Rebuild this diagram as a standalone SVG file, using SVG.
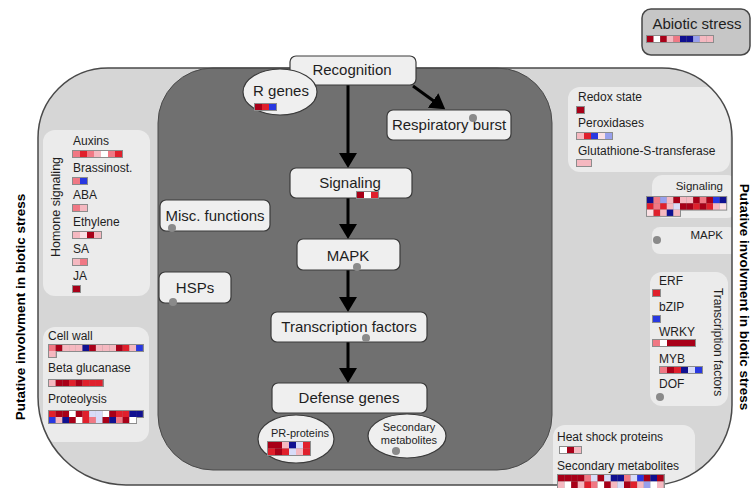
<svg xmlns="http://www.w3.org/2000/svg" width="753" height="488" viewBox="0 0 753 488">
<style>
text{font-family:"Liberation Sans",Arial,sans-serif;fill:#1e1e1e}
.box{fill:#efefef;stroke:#3a3a3a;stroke-width:1.2}
.panel{fill:#ebebeb}
.big{font-size:15px;text-anchor:middle}
.sm{font-size:12px}
.el{font-size:11px;text-anchor:middle}
.vt{font-size:13.5px;font-weight:bold;text-anchor:middle;fill:#000}
.hf{fill:#8c8c8c}
.dr{fill:#a80018}.r{fill:#e0202c}.p{fill:#f07884}.lp{fill:#f5b8c0}.vp{fill:#fbe0e4}.w{fill:#ffffff}
.nb{fill:#101090}.b{fill:#2838e0}.lb{fill:#98a0ec}.lv{fill:#d8dcf8}
.dot{fill:#8a8a8a}
.con{stroke:#000;stroke-width:3;fill:none;marker-end:url(#ah)}
</style>
<defs>
<marker id="ah" markerUnits="userSpaceOnUse" viewBox="0 0 15 18" refX="11" refY="9" markerWidth="15" markerHeight="18" orient="auto">
<path d="M0,0 L15,9 L0,18 z" fill="#000"/>
</marker>
<path id="outerShape" d="M108,68 H662 A70,70 0 0 1 732,138 V405 A80,80 0 0 1 652,485 H126 A88,88 0 0 1 38,397 V138 A70,70 0 0 1 108,68 Z"/>
<clipPath id="outerClip"><use href="#outerShape"/></clipPath>
</defs>
<rect width="753" height="488" fill="#ffffff"/>

<g id="outer-region">
<use href="#outerShape" fill="#d6d6d6"/>
</g>

<g id="inner-region">
<rect x="158" y="68" width="394" height="402" rx="55" fill="#707070" stroke="#4a4a4a" stroke-width="1"/>
</g>

<g id="side-panels" clip-path="url(#outerClip)">
<rect class="panel" x="43" y="130" width="107" height="166" rx="12"/>
<rect class="panel" x="43" y="327" width="106" height="115" rx="12"/>
<rect class="panel" x="568" y="87" width="162" height="85" rx="12"/>
<rect class="panel" x="652" y="175" width="85" height="43" rx="10"/>
<rect class="panel" x="652" y="227" width="85" height="27" rx="8"/>
<rect class="panel" x="650" y="272" width="78" height="134" rx="12"/>
<rect class="panel" x="553" y="425" width="142" height="80" rx="12"/>
</g>

<g id="outer-border">
<use href="#outerShape" fill="none" stroke="#4a4a4a" stroke-width="1.5"/>
</g>

<g id="side-labels">
<text class="vt" transform="translate(25,307) rotate(-90)">Putative involvment in biotic stress</text>
<text class="vt" transform="translate(740,297) rotate(90)">Putative involvment in biotic stress</text>
</g>

<g id="abiotic-stress">
<rect x="642" y="9" width="108" height="46" rx="9" fill="#c6c6c6" stroke="#474747" stroke-width="1.5"/>
<text class="big" x="697" y="29">Abiotic stress</text>
<rect class="hf" x="646" y="35" width="68" height="8"/>
<rect class="dr" x="647" y="36" width="6.6" height="6"/><rect class="w" x="653.6" y="36" width="6.6" height="6"/><rect class="dr" x="660.2" y="36" width="6.6" height="6"/><rect class="lp" x="666.8" y="36" width="6.6" height="6"/><rect class="p" x="673.4" y="36" width="6.6" height="6"/><rect class="nb" x="680" y="36" width="6.6" height="6"/><rect class="nb" x="686.6" y="36" width="6.6" height="6"/><rect class="lb" x="693.2" y="36" width="6.6" height="6"/><rect class="lp" x="699.8" y="36" width="6.6" height="6"/><rect class="lp" x="706.4" y="36" width="6.6" height="6"/>
</g>

<g id="hormone-signaling">
<text class="sm" transform="translate(60,207) rotate(-90)" text-anchor="middle" style="font-size:12.5px">Homone signaling</text>
<text class="sm" x="73" y="145">Auxins</text>
<rect class="hf" x="72" y="150" width="51" height="8"/>
<rect class="p" x="73" y="151" width="7" height="6"/><rect class="r" x="80" y="151" width="7" height="6"/><rect class="p" x="87" y="151" width="7" height="6"/><rect class="lp" x="94" y="151" width="7" height="6"/><rect class="w" x="101" y="151" width="7" height="6"/><rect class="p" x="108" y="151" width="7" height="6"/><rect class="r" x="115" y="151" width="7" height="6"/>
<text class="sm" x="73" y="172">Brassinost.</text>
<rect class="hf" x="72" y="177" width="16" height="8"/>
<rect class="p" x="73" y="178" width="7" height="6"/><rect class="b" x="80" y="178" width="7" height="6"/>
<text class="sm" x="73" y="199">ABA</text>
<rect class="hf" x="72" y="204" width="16" height="8"/>
<rect class="p" x="73" y="205" width="7" height="6"/><rect class="lp" x="80" y="205" width="7" height="6"/>
<text class="sm" x="73" y="226">Ethylene</text>
<rect class="hf" x="72" y="231" width="30" height="8"/>
<rect class="lp" x="73" y="232" width="7" height="6"/><rect class="vp" x="80" y="232" width="7" height="6"/><rect class="dr" x="87" y="232" width="7" height="6"/><rect class="lp" x="94" y="232" width="7" height="6"/>
<text class="sm" x="73" y="253">SA</text>
<rect class="hf" x="72" y="258" width="16" height="8"/>
<rect class="lp" x="73" y="259" width="7" height="6"/><rect class="p" x="80" y="259" width="7" height="6"/>
<text class="sm" x="73" y="280">JA</text>
<rect class="hf" x="72" y="285" width="9" height="8"/>
<rect class="dr" x="73" y="286" width="7" height="6"/>
</g>

<g id="cell-wall">
<text class="sm" x="48" y="340">Cell wall</text>
<rect class="hf" x="48" y="344" width="96" height="8"/><rect class="hf" x="48" y="350" width="9" height="8"/>
<rect class="p" x="49" y="345" width="6.7" height="6"/><rect class="dr" x="55.7" y="345" width="6.7" height="6"/><rect class="lp" x="62.4" y="345" width="6.7" height="6"/><rect class="lp" x="69.1" y="345" width="6.7" height="6"/><rect class="lp" x="75.8" y="345" width="6.7" height="6"/><rect class="nb" x="82.5" y="345" width="6.7" height="6"/><rect class="dr" x="89.2" y="345" width="6.7" height="6"/><rect class="lp" x="95.9" y="345" width="6.7" height="6"/><rect class="lp" x="102.6" y="345" width="6.7" height="6"/><rect class="lp" x="109.3" y="345" width="6.7" height="6"/><rect class="dr" x="116" y="345" width="6.7" height="6"/><rect class="r" x="122.7" y="345" width="6.7" height="6"/><rect class="lp" x="129.4" y="345" width="6.7" height="6"/><rect class="b" x="136.1" y="345" width="6.7" height="6"/>
<rect class="lp" x="49" y="351" width="6.7" height="6"/>
<text class="sm" x="48" y="372">Beta glucanase</text>
<rect class="hf" x="48" y="379" width="56" height="8"/>
<rect class="lp" x="49" y="380" width="6.7" height="6"/><rect class="dr" x="55.7" y="380" width="6.7" height="6"/><rect class="dr" x="62.4" y="380" width="6.7" height="6"/><rect class="r" x="69.1" y="380" width="6.7" height="6"/><rect class="dr" x="75.8" y="380" width="6.7" height="6"/><rect class="r" x="82.5" y="380" width="6.7" height="6"/><rect class="r" x="89.2" y="380" width="6.7" height="6"/><rect class="r" x="95.9" y="380" width="6.7" height="6"/>
<text class="sm" x="48" y="403">Proteolysis</text>
<rect class="hf" x="48" y="410" width="96" height="8"/><rect class="hf" x="48" y="416" width="89" height="8"/>
<rect class="r" x="49" y="411" width="6.7" height="6"/><rect class="dr" x="55.7" y="411" width="6.7" height="6"/><rect class="dr" x="62.4" y="411" width="6.7" height="6"/><rect class="w" x="69.1" y="411" width="6.7" height="6"/><rect class="dr" x="75.8" y="411" width="6.7" height="6"/><rect class="r" x="82.5" y="411" width="6.7" height="6"/><rect class="lv" x="89.2" y="411" width="6.7" height="6"/><rect class="lv" x="95.9" y="411" width="6.7" height="6"/><rect class="w" x="102.6" y="411" width="6.7" height="6"/><rect class="dr" x="109.3" y="411" width="6.7" height="6"/><rect class="r" x="116" y="411" width="6.7" height="6"/><rect class="r" x="122.7" y="411" width="6.7" height="6"/><rect class="nb" x="129.4" y="411" width="6.7" height="6"/><rect class="nb" x="136.1" y="411" width="6.7" height="6"/>
<rect class="b" x="49" y="417" width="6.7" height="6"/><rect class="lp" x="55.7" y="417" width="6.7" height="6"/><rect class="nb" x="62.4" y="417" width="6.7" height="6"/><rect class="dr" x="69.1" y="417" width="6.7" height="6"/><rect class="w" x="75.8" y="417" width="6.7" height="6"/><rect class="r" x="82.5" y="417" width="6.7" height="6"/><rect class="p" x="89.2" y="417" width="6.7" height="6"/><rect class="lv" x="95.9" y="417" width="6.7" height="6"/><rect class="dr" x="102.6" y="417" width="6.7" height="6"/><rect class="nb" x="109.3" y="417" width="6.7" height="6"/><rect class="p" x="116" y="417" width="6.7" height="6"/><rect class="dr" x="122.7" y="417" width="6.7" height="6"/><rect class="w" x="129.4" y="417" width="6.7" height="6"/>
</g>

<g id="redox">
<text class="sm" x="578" y="101">Redox state</text>
<rect class="hf" x="576" y="106" width="9" height="8"/><rect class="dr" x="577" y="107" width="7" height="6"/>
<text class="sm" x="578" y="127">Peroxidases</text>
<rect class="hf" x="576" y="132" width="37" height="8"/>
<rect class="lp" x="577" y="133" width="7" height="6"/><rect class="r" x="584" y="133" width="7" height="6"/><rect class="b" x="591" y="133" width="7" height="6"/><rect class="vp" x="598" y="133" width="7" height="6"/><rect class="lb" x="605" y="133" width="7" height="6"/>
<text class="sm" x="578" y="155">Glutathione-S-transferase</text>
<rect class="hf" x="576" y="159" width="16" height="8"/>
<rect class="lp" x="577" y="160" width="7" height="6"/><rect class="lp" x="584" y="160" width="7" height="6"/>
</g>

<g id="signaling-right">
<text class="sm" x="723" y="190" text-anchor="end" style="font-size:11.5px">Signaling</text>
<rect class="hf" x="646" y="196" width="81.2" height="14.6"/><rect class="hf" x="646" y="208.6" width="35" height="8.3"/>
<rect class="nb" x="647" y="197" width="6.6" height="6.3"/><rect class="p" x="653.6" y="197" width="6.6" height="6.3"/><rect class="lb" x="660.2" y="197" width="6.6" height="6.3"/><rect class="lp" x="666.8" y="197" width="6.6" height="6.3"/><rect class="dr" x="673.4" y="197" width="6.6" height="6.3"/><rect class="lp" x="680" y="197" width="6.6" height="6.3"/><rect class="lp" x="686.6" y="197" width="6.6" height="6.3"/><rect class="dr" x="693.2" y="197" width="6.6" height="6.3"/><rect class="p" x="699.8" y="197" width="6.6" height="6.3"/><rect class="dr" x="706.4" y="197" width="6.6" height="6.3"/><rect class="b" x="713" y="197" width="6.6" height="6.3"/><rect class="nb" x="719.6" y="197" width="6.6" height="6.3"/>
<rect class="r" x="647" y="203.3" width="6.6" height="6.3"/><rect class="p" x="653.6" y="203.3" width="6.6" height="6.3"/><rect class="r" x="660.2" y="203.3" width="6.6" height="6.3"/><rect class="lp" x="666.8" y="203.3" width="6.6" height="6.3"/><rect class="lv" x="673.4" y="203.3" width="6.6" height="6.3"/><rect class="dr" x="680" y="203.3" width="6.6" height="6.3"/><rect class="dr" x="686.6" y="203.3" width="6.6" height="6.3"/><rect class="r" x="693.2" y="203.3" width="6.6" height="6.3"/><rect class="dr" x="699.8" y="203.3" width="6.6" height="6.3"/><rect class="r" x="706.4" y="203.3" width="6.6" height="6.3"/><rect class="lp" x="713" y="203.3" width="6.6" height="6.3"/><rect class="vp" x="719.6" y="203.3" width="6.6" height="6.3"/>
<rect class="vp" x="647" y="209.6" width="6.6" height="6.3"/><rect class="r" x="653.6" y="209.6" width="6.6" height="6.3"/><rect class="lp" x="660.2" y="209.6" width="6.6" height="6.3"/><rect class="nb" x="666.8" y="209.6" width="6.6" height="6.3"/><rect class="lp" x="673.4" y="209.6" width="6.6" height="6.3"/>
</g>

<g id="mapk-right">
<text class="sm" x="723" y="239" text-anchor="end" style="font-size:11.5px">MAPK</text>
<circle class="dot" cx="657" cy="240" r="4"/>
</g>

<g id="transcription-factors-right">
<text class="sm" transform="translate(714,342) rotate(90)" text-anchor="middle">Transcription factors</text>
<text class="sm" x="659" y="285">ERF</text>
<rect class="hf" x="652" y="289" width="9" height="8"/><rect class="r" x="653" y="290" width="7" height="6"/>
<text class="sm" x="659" y="311">bZIP</text>
<rect class="hf" x="652" y="315" width="9" height="8"/><rect class="b" x="653" y="316" width="7" height="6"/>
<text class="sm" x="659" y="336">WRKY</text>
<rect class="hf" x="652" y="339" width="44" height="8"/>
<rect class="p" x="653" y="340" width="7" height="6"/><rect class="w" x="660" y="340" width="7" height="6"/><rect class="dr" x="667" y="340" width="7" height="6"/><rect class="dr" x="674" y="340" width="7" height="6"/><rect class="dr" x="681" y="340" width="7" height="6"/><rect class="dr" x="688" y="340" width="7" height="6"/>
<text class="sm" x="659" y="363">MYB</text>
<rect class="hf" x="659" y="366" width="44" height="8"/>
<rect class="p" x="660" y="367" width="7" height="6"/><rect class="dr" x="667" y="367" width="7" height="6"/><rect class="r" x="674" y="367" width="7" height="6"/><rect class="nb" x="681" y="367" width="7" height="6"/><rect class="lv" x="688" y="367" width="7" height="6"/><rect class="b" x="695" y="367" width="7" height="6"/>
<text class="sm" x="659" y="388">DOF</text>
<circle class="dot" cx="660" cy="397" r="4"/>
</g>

<g id="heat-shock-secondary">
<text class="sm" x="557" y="441">Heat shock proteins</text>
<rect class="hf" x="559" y="446" width="23" height="8"/>
<rect class="w" x="560" y="447" width="7" height="6"/><rect class="dr" x="567" y="447" width="7" height="6"/><rect class="lp" x="574" y="447" width="7" height="6"/>
<text class="sm" x="557" y="470">Secondary metabolites</text>
<rect class="hf" x="557" y="474" width="108" height="15"/>
<rect class="dr" x="558" y="475" width="6.6" height="6.5"/><rect class="dr" x="564.6" y="475" width="6.6" height="6.5"/><rect class="dr" x="571.2" y="475" width="6.6" height="6.5"/><rect class="dr" x="577.8" y="475" width="6.6" height="6.5"/><rect class="p" x="584.4" y="475" width="6.6" height="6.5"/><rect class="lv" x="591" y="475" width="6.6" height="6.5"/><rect class="dr" x="597.6" y="475" width="6.6" height="6.5"/><rect class="lv" x="604.2" y="475" width="6.6" height="6.5"/><rect class="nb" x="610.8" y="475" width="6.6" height="6.5"/><rect class="nb" x="617.4" y="475" width="6.6" height="6.5"/><rect class="p" x="624" y="475" width="6.6" height="6.5"/><rect class="lv" x="630.6" y="475" width="6.6" height="6.5"/><rect class="b" x="637.2" y="475" width="6.6" height="6.5"/><rect class="dr" x="643.8" y="475" width="6.6" height="6.5"/><rect class="nb" x="650.4" y="475" width="6.6" height="6.5"/><rect class="dr" x="657" y="475" width="6.6" height="6.5"/>
<rect class="lp" x="558" y="481.5" width="6.6" height="6.5"/><rect class="w" x="564.6" y="481.5" width="6.6" height="6.5"/><rect class="dr" x="571.2" y="481.5" width="6.6" height="6.5"/><rect class="lp" x="577.8" y="481.5" width="6.6" height="6.5"/><rect class="r" x="584.4" y="481.5" width="6.6" height="6.5"/><rect class="p" x="591" y="481.5" width="6.6" height="6.5"/><rect class="w" x="597.6" y="481.5" width="6.6" height="6.5"/><rect class="dr" x="604.2" y="481.5" width="6.6" height="6.5"/><rect class="lp" x="610.8" y="481.5" width="6.6" height="6.5"/><rect class="lv" x="617.4" y="481.5" width="6.6" height="6.5"/><rect class="dr" x="624" y="481.5" width="6.6" height="6.5"/><rect class="r" x="630.6" y="481.5" width="6.6" height="6.5"/><rect class="lp" x="637.2" y="481.5" width="6.6" height="6.5"/><rect class="lb" x="643.8" y="481.5" width="6.6" height="6.5"/><rect class="w" x="650.4" y="481.5" width="6.6" height="6.5"/><rect class="lp" x="657" y="481.5" width="6.6" height="6.5"/>
</g>

<g id="connectors">
<path class="con" d="M348,85 V164"/>
<path class="con" d="M413,86 L442,107"/>
<path class="con" d="M348,198 V235"/>
<path class="con" d="M348,270 V308"/>
<path class="con" d="M348,342 V379"/>
</g>

<g id="recognition">
<rect class="box" x="290" y="56" width="126" height="29" rx="6"/>
<text class="big" x="352" y="75">Recognition</text>
</g>

<g id="r-genes">
<ellipse class="box" cx="280" cy="92" rx="37" ry="23"/>
<text class="big" x="281" y="96">R genes</text>
<rect class="hf" x="254" y="103" width="23" height="8"/>
<rect class="dr" x="255" y="104" width="7" height="6"/><rect class="r" x="262" y="104" width="7" height="6"/><rect class="b" x="269" y="104" width="7" height="6"/>
</g>

<g id="respiratory-burst">
<rect class="box" x="387" y="110" width="124" height="30" rx="6"/>
<text class="big" x="449" y="130">Respiratory burst</text>
<circle class="dot" cx="473" cy="118" r="4"/>
</g>

<g id="signaling">
<rect class="box" x="290" y="168" width="122" height="30" rx="6"/>
<text class="big" x="350" y="188">Signaling</text>
<rect class="hf" x="356" y="191" width="23" height="8"/>
<rect class="dr" x="357" y="192" width="7" height="6"/><rect class="w" x="364" y="192" width="7" height="6"/><rect class="r" x="371" y="192" width="7" height="6"/>
</g>

<g id="misc-functions">
<rect class="box" x="160" y="200" width="110" height="31" rx="6"/>
<text class="big" x="215" y="221">Misc. functions</text>
<circle class="dot" cx="172" cy="228" r="4"/>
</g>

<g id="mapk">
<rect class="box" x="297" y="239" width="103" height="31" rx="6"/>
<text class="big" x="348" y="261">MAPK</text>
<circle class="dot" cx="357" cy="267" r="4"/>
</g>

<g id="hsps">
<rect class="box" x="159" y="272" width="72" height="31" rx="6"/>
<text class="big" x="195" y="293">HSPs</text>
<circle class="dot" cx="173" cy="302" r="4"/>
</g>

<g id="transcription-factors">
<rect class="box" x="271" y="312" width="156" height="30" rx="6"/>
<text class="big" x="349" y="332">Transcription factors</text>
<circle class="dot" cx="366" cy="338" r="4"/>
</g>

<g id="defense-genes">
<rect class="box" x="272" y="383" width="155" height="30" rx="6"/>
<text class="big" x="349" y="403">Defense genes</text>
</g>

<g id="pr-proteins">
<ellipse class="box" cx="296" cy="439" rx="38" ry="24"/>
<text class="el" x="300" y="437">PR-proteins</text>
<rect class="hf" x="267" y="441" width="44" height="15"/>
<rect class="dr" x="268" y="442" width="7" height="6.5"/><rect class="dr" x="275" y="442" width="7" height="6.5"/><rect class="lp" x="282" y="442" width="7" height="6.5"/><rect class="nb" x="289" y="442" width="7" height="6.5"/><rect class="lv" x="296" y="442" width="7" height="6.5"/><rect class="r" x="303" y="442" width="7" height="6.5"/>
<rect class="r" x="268" y="448.5" width="7" height="6.5"/><rect class="dr" x="275" y="448.5" width="7" height="6.5"/><rect class="r" x="282" y="448.5" width="7" height="6.5"/><rect class="lv" x="289" y="448.5" width="7" height="6.5"/><rect class="lp" x="296" y="448.5" width="7" height="6.5"/><rect class="r" x="303" y="448.5" width="7" height="6.5"/>
</g>

<g id="secondary-metabolites">
<ellipse class="box" cx="407" cy="436" rx="39" ry="22"/>
<text class="el" x="409" y="431">Secondary</text>
<text class="el" x="409" y="444">metabolites</text>
<circle class="dot" cx="396" cy="451" r="4"/>
</g>
</svg>
